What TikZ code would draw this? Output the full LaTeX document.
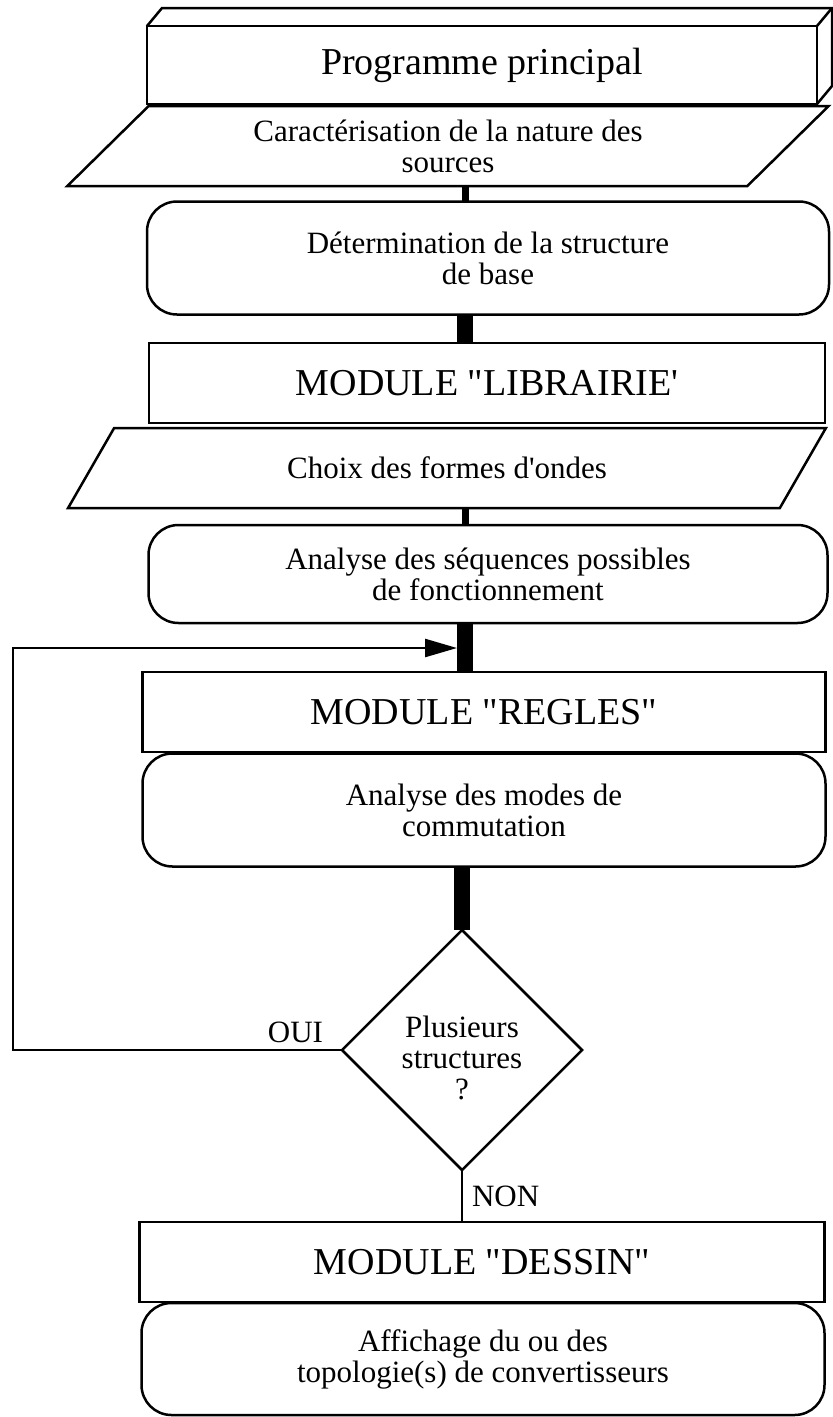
\documentclass[tikz,border=0pt]{standalone}
\usepackage{fontspec}
\setmainfont{Liberation Serif}
\usetikzlibrary{shapes.geometric,arrows.meta}

\begin{document}
\begin{tikzpicture}[x=1pt, y=-1pt,
  every node/.style={inner sep=0pt, outer sep=0pt, align=center,
    font=\fontsize{31}{31}\selectfont},
  boite/.style={draw, line width=2.5pt, minimum height=80pt,
    font=\fontsize{38}{40}\selectfont},
  arrondi/.style={draw, line width=2.5pt, rounded corners=30pt},
  parall/.style={draw, line width=2.5pt, trapezium, trapezium stretches=true,
    trapezium left angle=45, trapezium right angle=135, minimum height=80pt},
  losange/.style={draw, line width=2.5pt, diamond, minimum width=240pt,
    minimum height=240pt},
  fin/.style={line width=2.5pt},
  moyen/.style={line width=7pt},
  epais/.style={line width=16pt}]
\useasboundingbox (0,0) rectangle (833,1417);

% blocs
\node[boite, minimum width=670pt, minimum height=78pt] (prog) at (482,65) {Programme principal};
\node[parall, minimum width=764pt] (carac) at (448,146) {Caractérisation de la nature des\\sources};
\node[arrondi, minimum width=682pt, minimum height=113pt] (det) at (488,258) {Détermination de la structure\\de base};
\node[boite, minimum width=676pt] (lib) at (487,383) {MODULE \textquotedbl LIBRAIRIE\textquotesingle};
\node[parall, minimum width=762pt] (choix) at (447,468) {Choix des formes d\textquotesingle ondes};
\node[arrondi, minimum width=679pt, minimum height=98pt] (seq) at (488,574) {Analyse des séquences possibles\\de fonctionnement};
\node[boite, minimum width=683pt] (regles) at (484,712) {MODULE \textquotedbl REGLES\textquotedbl};
\node[arrondi, minimum width=683pt, minimum height=113pt] (modes) at (484,810) {Analyse des modes de\\commutation};
\node[losange] (test) at (462,1050) {};
\node[yshift=-8pt] (question) at (test) {Plusieurs\\structures\\?};
\node[boite, minimum width=685pt] (dessin) at (482,1262) {MODULE \textquotedbl DESSIN\textquotedbl};
\node[arrondi, minimum width=683pt, minimum height=112pt] (affich) at (483,1359) {Affichage du ou des\\topologie(s) de convertisseurs};

% effet de relief du programme principal
\draw[fin] (prog.north west) -- ++(15,-18) -- ++(670,0) -- ++(0,78) -- (prog.south east);
\draw[fin] (prog.north east) -- ++(15,-18);

% liaisons
\coordinate (axe) at (465,0);
\coordinate (coin) at (13,648);
\coordinate (retour) at (457,648);
\draw[moyen] (carac.south -| axe) -- (det.north -| axe);
\draw[epais] (det.south -| axe) -- (lib.north -| axe);
\draw[moyen] (choix.south -| axe) -- (seq.north -| axe);
\draw[epais] (seq.south -| axe) -- (regles.north -| axe);
\draw[epais] (modes.south -| test.north) -- (test.north);
\draw[fin] (test.south) -- node[pos=0.5, right=10pt] {NON} (dessin.north -| test.south);
\draw[fin, -{Triangle[length=32pt, width=18pt]}] (test.west) -- (test.west -| coin) |- (retour);
\node[anchor=base east] (oui) at ([xshift=-19pt, yshift=8pt]test.west) {OUI};
\end{tikzpicture}
\end{document}
